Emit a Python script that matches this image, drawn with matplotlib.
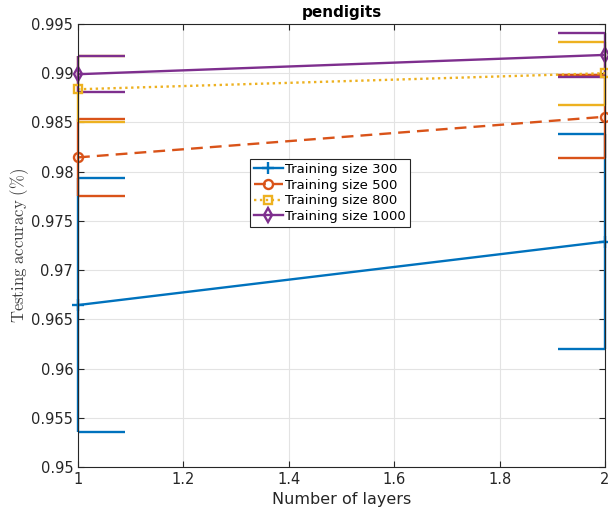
import matplotlib
matplotlib.use("Agg")
import matplotlib.pyplot as plt
import numpy as np

plt.rcParams['mathtext.fontset'] = 'cm'

layers = [1, 2]
labels = ["Training size 300", "Training size 500", "Training size 800", "Training size 1000"]
acc_300 = [0.96645, 0.9729]
err_300 = [0.0129, 0.0109]
acc_500 = [0.98145, 0.98558]
err_500 = [0.0039, 0.00423]
acc_800 = [0.98837, 0.9900]
err_800 = [0.00337, 0.0032]
acc_1000 = [0.9899, 0.99186]
err_1000 = [0.0018, 0.00225]

colors = ["#0072BD", "#D95319", "#EDB120", "#7E2F8E"]
markers = ["+", "o", "s", "d"]
styles = ["-", (0, (5, 3)), (0, (1, 1.5)), "-"]
msizes = [8, 6.5, 5.5, 7]

fig = plt.figure(figsize=(6.08, 5.15), dpi=100)
ax = fig.add_axes([78/608, 1-467/515, (605-78)/608, (467-24)/515])

handles = []
for acc, err, c, m, ls, ms, lab in zip([acc_300, acc_500, acc_800, acc_1000],
                                      [err_300, err_500, err_800, err_1000],
                                      colors, markers, styles, msizes, labels):
    eb = ax.errorbar(layers, acc, yerr=err, color=c, marker=m, linestyle=ls,
                     linewidth=1.7, markersize=ms, markerfacecolor='none',
                     markeredgewidth=1.7, capsize=34, capthick=1.7, elinewidth=1.7)
    eb[0].set_clip_on(False)
    for cl in eb[1]:
        cl.set_clip_on(True)
    for bl in eb[2]:
        bl.set_clip_on(False)
    eb[0].set_label(lab)
    handles.append(eb[0])

ax.set_xlim(1, 2)
ax.set_ylim(0.95, 0.995)
ax.set_xticks(np.arange(1, 2.01, 0.2))
ax.set_xticklabels(["1", "1.2", "1.4", "1.6", "1.8", "2"])
yt = np.arange(0.95, 0.99501, 0.005)
ax.set_yticks(yt)
ax.set_yticklabels([f"{v:g}" for v in np.round(yt, 3)])
ax.grid(True, color="#e3e3e3", linewidth=0.8)
ax.set_axisbelow(True)
ax.tick_params(direction="in", top=True, right=True, colors="#262626",
               labelsize=10.5, length=4, width=0.8)
for s in ax.spines.values():
    s.set_color("#262626")
    s.set_linewidth(0.8)

ax.set_title("pendigits", fontsize=11, fontweight="bold", color="black", pad=5)
ax.set_xlabel("Number of layers", fontsize=11.5, color="#262626")
ax.set_ylabel(r"$\mathrm{Testing\ accuracy\ (\%)}$", fontsize=12, color="#404040", labelpad=0)

leg = ax.legend(handles=handles, loc="center", bbox_to_anchor=((330-78)/527, (467-193)/443),
                fontsize=9.5, frameon=True, fancybox=False, edgecolor="#262626",
                framealpha=1, handlelength=2.2, handletextpad=0.2, borderpad=0.3,
                labelspacing=0.2, borderaxespad=0, numpoints=1)
leg.get_frame().set_linewidth(0.8)

fig.savefig("out.png", dpi=100)
